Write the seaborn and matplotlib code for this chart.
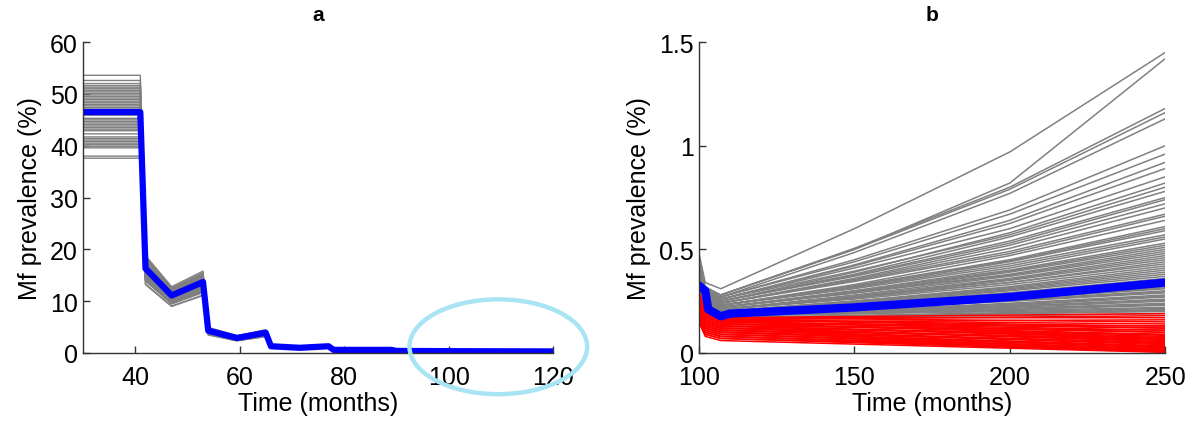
import numpy as np
import pandas as pd
import matplotlib
matplotlib.use("Agg")
import matplotlib.pyplot as plt
from matplotlib.patches import Ellipse
import seaborn as sns

# =========================
# 1. DATA
# =========================
# panel a: mean trajectory (blue) and run start values (gray band)
a_months = [30, 41, 42, 47, 53, 54, 59.5, 65, 66, 71.5, 77, 78, 89, 90, 100, 120]
a_mean = [46.5, 46.5, 16.3, 11.1, 13.7, 4.3, 2.9, 3.9, 1.3, 1.0, 1.3, 0.6, 0.6, 0.4, 0.35, 0.3]
a_run_start = [53.6, 52.6, 52.0, 51.6, 51.3, 51.0, 50.7, 50.4, 50.1, 49.8, 49.5, 49.2,
               48.9, 48.6, 48.3, 48.0, 47.7, 47.4, 47.1, 46.8, 46.5, 46.2, 45.9, 45.3,
               45.0, 44.7, 44.4, 44.1, 43.8, 43.5, 43.2, 42.9, 42.3, 41.7, 41.4, 41.1,
               40.8, 40.5, 40.2, 39.9, 39.6, 38.0, 37.6]

# panel b: knots in months
b_months = [100, 102, 107, 150, 200, 250]

# gray runs (prevalence rising again)
g_100 = [0.48, 0.45, 0.42, 0.40, 0.38, 0.36, 0.35, 0.34, 0.33, 0.32,
         0.31, 0.30, 0.30, 0.29, 0.29, 0.28, 0.28, 0.27, 0.27, 0.26,
         0.26, 0.26, 0.25, 0.25, 0.25, 0.24, 0.24, 0.24, 0.23, 0.23,
         0.23, 0.23, 0.22, 0.22, 0.22, 0.22, 0.21, 0.21, 0.21, 0.21,
         0.21, 0.20, 0.20, 0.20, 0.20, 0.20, 0.20, 0.20, 0.20, 0.20,
         0.44, 0.41, 0.37, 0.35, 0.33, 0.31, 0.30, 0.29, 0.28, 0.27,
         0.26, 0.25, 0.24, 0.23, 0.22, 0.22, 0.21, 0.21, 0.20, 0.20]
g_102 = [0.34, 0.32, 0.31, 0.31, 0.30, 0.30, 0.29, 0.29, 0.29, 0.28,
         0.28, 0.28, 0.27, 0.27, 0.27, 0.26, 0.26, 0.26, 0.26, 0.25,
         0.25, 0.25, 0.25, 0.24, 0.24, 0.24, 0.24, 0.24, 0.23, 0.23,
         0.23, 0.23, 0.23, 0.23, 0.22, 0.22, 0.22, 0.22, 0.22, 0.22,
         0.21, 0.21, 0.21, 0.21, 0.21, 0.21, 0.21, 0.20, 0.20, 0.20,
         0.31, 0.30, 0.29, 0.28, 0.27, 0.27, 0.26, 0.26, 0.25, 0.25,
         0.24, 0.24, 0.23, 0.23, 0.22, 0.22, 0.21, 0.21, 0.21, 0.20]
g_107 = [0.31, 0.28, 0.28, 0.28, 0.27, 0.27, 0.26, 0.26, 0.26, 0.25,
         0.25, 0.25, 0.24, 0.24, 0.24, 0.23, 0.23, 0.23, 0.23, 0.22,
         0.22, 0.22, 0.22, 0.21, 0.21, 0.21, 0.21, 0.21, 0.20, 0.20,
         0.20, 0.20, 0.20, 0.20, 0.19, 0.19, 0.19, 0.19, 0.19, 0.19,
         0.18, 0.18, 0.18, 0.18, 0.18, 0.18, 0.18, 0.17, 0.17, 0.17,
         0.27, 0.26, 0.25, 0.24, 0.23, 0.23, 0.22, 0.22, 0.21, 0.21,
         0.20, 0.20, 0.19, 0.19, 0.19, 0.18, 0.18, 0.18, 0.18, 0.17]
g_150 = [0.60, 0.50, 0.505, 0.50, 0.485, 0.45, 0.425, 0.42, 0.41, 0.39,
         0.38, 0.375, 0.36, 0.355, 0.35, 0.33, 0.325, 0.32, 0.315, 0.30,
         0.30, 0.29, 0.29, 0.28, 0.275, 0.27, 0.27, 0.26, 0.25, 0.25,
         0.245, 0.24, 0.24, 0.24, 0.23, 0.225, 0.22, 0.22, 0.215, 0.215,
         0.205, 0.20, 0.20, 0.20, 0.195, 0.19, 0.19, 0.18, 0.18, 0.175,
         0.44, 0.395, 0.37, 0.345, 0.32, 0.31, 0.295, 0.29, 0.27, 0.265,
         0.25, 0.24, 0.225, 0.22, 0.215, 0.205, 0.20, 0.195, 0.19, 0.18]
g_200 = [0.97, 0.82, 0.80, 0.79, 0.77, 0.69, 0.64, 0.625, 0.60, 0.58,
         0.56, 0.54, 0.52, 0.505, 0.49, 0.47, 0.45, 0.44, 0.43, 0.41,
         0.40, 0.39, 0.38, 0.37, 0.36, 0.35, 0.34, 0.33, 0.32, 0.315,
         0.305, 0.30, 0.29, 0.285, 0.28, 0.27, 0.265, 0.26, 0.255, 0.25,
         0.24, 0.23, 0.225, 0.22, 0.215, 0.21, 0.205, 0.195, 0.19, 0.18,
         0.67, 0.57, 0.53, 0.48, 0.445, 0.42, 0.395, 0.375, 0.355, 0.34,
         0.31, 0.29, 0.275, 0.26, 0.25, 0.235, 0.225, 0.21, 0.20, 0.19]
g_250 = [1.45, 1.42, 1.18, 1.16, 1.13, 1.00, 0.92, 0.89, 0.85, 0.82,
         0.78, 0.75, 0.72, 0.70, 0.67, 0.64, 0.61, 0.59, 0.57, 0.55,
         0.53, 0.51, 0.50, 0.48, 0.47, 0.45, 0.44, 0.42, 0.41, 0.40,
         0.38, 0.37, 0.36, 0.35, 0.34, 0.33, 0.32, 0.31, 0.30, 0.29,
         0.28, 0.27, 0.26, 0.25, 0.24, 0.23, 0.22, 0.21, 0.20, 0.19,
         0.96, 0.80, 0.74, 0.66, 0.60, 0.56, 0.52, 0.49, 0.46, 0.43,
         0.39, 0.355, 0.335, 0.315, 0.295, 0.275, 0.255, 0.235, 0.215, 0.205]

# red runs (heading to elimination)
r_100 = [0.30, 0.29, 0.28, 0.27, 0.27, 0.26, 0.26, 0.25, 0.25, 0.24,
         0.24, 0.23, 0.23, 0.22, 0.22, 0.21, 0.21, 0.20, 0.20, 0.19,
         0.19, 0.18, 0.18, 0.17, 0.17, 0.16, 0.16, 0.15, 0.15, 0.15,
         0.27, 0.29, 0.25, 0.23, 0.21, 0.20, 0.18, 0.17, 0.16, 0.15]
r_102 = [0.19, 0.19, 0.19, 0.18, 0.18, 0.18, 0.17, 0.17, 0.17, 0.16,
         0.16, 0.16, 0.15, 0.15, 0.15, 0.14, 0.14, 0.14, 0.13, 0.13,
         0.13, 0.12, 0.12, 0.12, 0.11, 0.11, 0.10, 0.10, 0.09, 0.08,
         0.17, 0.18, 0.16, 0.15, 0.14, 0.13, 0.12, 0.11, 0.10, 0.09]
r_107 = [0.17, 0.17, 0.17, 0.16, 0.16, 0.16, 0.15, 0.15, 0.15, 0.14,
         0.14, 0.14, 0.13, 0.13, 0.13, 0.12, 0.12, 0.12, 0.11, 0.11,
         0.11, 0.10, 0.10, 0.10, 0.09, 0.09, 0.08, 0.08, 0.07, 0.06,
         0.15, 0.16, 0.14, 0.13, 0.12, 0.11, 0.10, 0.09, 0.08, 0.07]
r_150 = [0.176, 0.17, 0.164, 0.154, 0.151, 0.148, 0.141, 0.138, 0.135, 0.128,
         0.125, 0.124, 0.115, 0.114, 0.112, 0.104, 0.102, 0.10, 0.092, 0.09,
         0.089, 0.08, 0.079, 0.078, 0.069, 0.068, 0.059, 0.058, 0.05, 0.043,
         0.153, 0.166, 0.137, 0.124, 0.111, 0.098, 0.085, 0.072, 0.062, 0.053]
r_200 = [0.183, 0.17, 0.157, 0.147, 0.14, 0.134, 0.13, 0.124, 0.118, 0.114,
         0.108, 0.104, 0.098, 0.094, 0.091, 0.084, 0.081, 0.078, 0.071, 0.068,
         0.065, 0.058, 0.055, 0.051, 0.045, 0.041, 0.035, 0.033, 0.028, 0.023,
         0.157, 0.173, 0.134, 0.117, 0.10, 0.084, 0.068, 0.051, 0.041, 0.032]
r_250 = [0.19, 0.17, 0.15, 0.14, 0.13, 0.12, 0.12, 0.11, 0.10, 0.10,
         0.09, 0.085, 0.08, 0.075, 0.07, 0.065, 0.06, 0.055, 0.05, 0.045,
         0.04, 0.035, 0.03, 0.025, 0.02, 0.015, 0.01, 0.008, 0.005, 0.003,
         0.16, 0.18, 0.13, 0.11, 0.09, 0.07, 0.05, 0.03, 0.02, 0.012]

# blue mean in panel b
b_mean_months = [100, 102, 103, 107, 110, 150, 200, 250]
b_mean = [0.325, 0.30, 0.21, 0.177, 0.19, 0.22, 0.27, 0.34]

# =========================
# 2. LONG FORM TABLES
# =========================
rows = []
for run, start in enumerate(a_run_start):
    for m, v in zip(a_months, a_mean):
        rows.append({"run": run, "month": m, "prev": v * start / a_mean[0]})
df_a = pd.DataFrame(rows)
df_a_mean = pd.DataFrame({"month": a_months, "prev": a_mean})


def to_long(cols):
    out = []
    for run, vals in enumerate(zip(*cols)):
        for m, v in zip(b_months, vals):
            out.append({"run": run, "month": m, "prev": v})
    return pd.DataFrame(out)


df_gray = to_long([g_100, g_102, g_107, g_150, g_200, g_250])
df_red = to_long([r_100, r_102, r_107, r_150, r_200, r_250])
df_b_mean = pd.DataFrame({"month": b_mean_months, "prev": b_mean})

# =========================
# 3. PLOT
# =========================
sns.set_style("ticks")
plt.rcParams["font.family"] = ["Liberation Sans", "DejaVu Sans"]
plt.rcParams["xtick.direction"] = "in"
plt.rcParams["ytick.direction"] = "in"
plt.rcParams["text.color"] = "black"
plt.rcParams["axes.labelcolor"] = "black"
plt.rcParams["xtick.labelcolor"] = "black"
plt.rcParams["ytick.labelcolor"] = "black"

fig = plt.figure(figsize=(12, 4.27), dpi=100)
ax_a = fig.add_axes([0.069, 0.171, 0.392, 0.728])
ax_b = fig.add_axes([0.5825, 0.171, 0.3885, 0.728])

# panel a
sns.lineplot(data=df_a, x="month", y="prev", units="run", estimator=None,
             color="#808080", lw=1.0, ax=ax_a)
sns.lineplot(data=df_a_mean, x="month", y="prev", color="#0000ff", lw=4.5, ax=ax_a)
ax_a.set_xlim(30, 120)
ax_a.set_ylim(0, 60)
ax_a.set_xticks([40, 60, 80, 100, 120])
ax_a.set_yticks([0, 10, 20, 30, 40, 50, 60])
ax_a.add_patch(Ellipse((109.5, 1.2), 34, 18.3, fill=False, ec="#a8e4f4",
                       lw=3.2, clip_on=False, zorder=5))

# panel b
sns.lineplot(data=df_gray, x="month", y="prev", units="run", estimator=None,
             color="#808080", lw=1.1, ax=ax_b)
sns.lineplot(data=df_red, x="month", y="prev", units="run", estimator=None,
             color="#ff0000", lw=1.1, ax=ax_b)
sns.lineplot(data=df_b_mean, x="month", y="prev", color="#0000ff", lw=6, ax=ax_b)
ax_b.set_xlim(100, 250)
ax_b.set_ylim(0, 1.5)
ax_b.set_xticks([100, 150, 200, 250])
ax_b.set_yticks([0, 0.5, 1, 1.5])
ax_b.set_yticklabels(["0", "0.5", "1", "1.5"])

for ax, lab in ((ax_a, "a"), (ax_b, "b")):
    sns.despine(ax=ax)
    ax.set_title(lab, fontsize=15, fontweight="bold", pad=16)
    ax.set_xlabel("Time (months)", fontsize=18, labelpad=1)
    ax.set_ylabel("Mf prevalence (%)", fontsize=18, labelpad=6)
    ax.tick_params(labelsize=18, length=5, width=1, color="#333333")
    ax.tick_params(axis="x", pad=9)
    for s in ("left", "bottom"):
        ax.spines[s].set_color("#333333")
        ax.spines[s].set_linewidth(1)

plt.savefig("out.png", dpi=100)
